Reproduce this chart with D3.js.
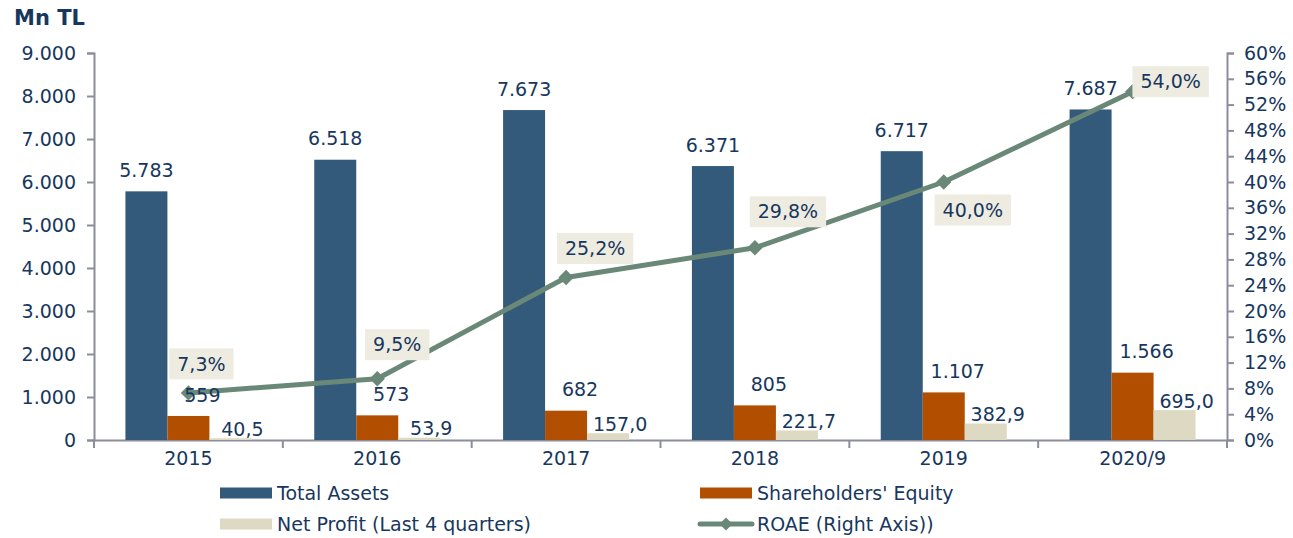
<!DOCTYPE html>
<html>
<head>
<meta charset="utf-8">
<script src="https://cdn.jsdelivr.net/npm/d3@7/dist/d3.min.js"></script>
<style>
  body { margin: 0; background: #fff; }
  svg text { font-family: "DejaVu Sans", Verdana, sans-serif; fill: #17375E; }
</style>
</head>
<body>
<svg id="chart" width="1293" height="538"></svg>
<script>

// data
var years = ["2015", "2016", "2017", "2018", "2019", "2020/9"];
var totalAssets = [5783, 6518, 7673, 6371, 6717, 7687];
var equity = [559, 573, 682, 805, 1107, 1566];
var netProfit = [40.5, 53.9, 157.0, 221.7, 382.9, 695.0];
var roae = [7.3, 9.5, 25.2, 29.8, 40.0, 54.0];

var leftTicks = [0, 1000, 2000, 3000, 4000, 5000, 6000, 7000, 8000, 9000];
var rightTicks = d3.range(0, 61, 4);

// where each ROAE label box sits relative to its point (layout only)
var roaeLabelShift = [[13, -29], [20, -34], [29, -29], [33, -36], [29, 28], [38, -10]];

var colours = {
  assets: "#345A7B",
  equity: "#B24E00",
  profit: "#DDD9C3",
  line: "#6A8878",
  axis: "#8C8D9B",
  box: "#EEECE1"
};

var FONT = 19;

var svg = d3.select("#chart");
var margin = { left: 94, right: 1227, top: 53, bottom: 440 };

var x0 = d3.scaleBand().domain(years).range([margin.left, margin.right]);
var x1 = d3.scaleBand().domain(["a", "e", "p"]).range([0, 126]);
var yL = d3.scaleLinear().domain([0, 9000]).range([margin.bottom, margin.top]);
var yR = d3.scaleLinear().domain([0, 60]).range([margin.bottom, margin.top]);

var fmtInt = function(v) { return d3.format(",")(v).replace(/,/g, "."); };
var fmtDec = function(v) { return v.toFixed(1).replace(".", ","); };

// title
svg.append("text")
  .attr("x", 14).attr("y", 25)
  .attr("font-size", 21).attr("font-weight", "bold")
  .text("Mn TL");

// axes
var axisG = svg.append("g");

axisG.append("g")
  .attr("transform", "translate(" + margin.left + ",0)")
  .call(d3.axisLeft(yL).tickValues(leftTicks).tickSize(7).tickPadding(11).tickFormat(fmtInt));

axisG.append("g")
  .attr("transform", "translate(" + margin.right + ",0)")
  .call(d3.axisRight(yR).tickValues(rightTicks).tickSize(7).tickPadding(10).tickFormat(function(d){ return d + "%"; }));

var bottomAxis = axisG.append("g")
  .attr("transform", "translate(0," + margin.bottom + ")")
  .call(d3.axisBottom(x0).tickSize(0).tickPadding(18));

bottomAxis.selectAll(".tick text").attr("dy", "0.35em");

// category boundary ticks
bottomAxis.selectAll("line.sep")
  .data(years.concat(["end"]))
  .enter().append("line")
  .attr("class", "sep")
  .attr("x1", function(d, i){ return margin.left + i * x0.step(); })
  .attr("x2", function(d, i){ return margin.left + i * x0.step(); })
  .attr("y1", 0).attr("y2", 8)
  .attr("stroke", colours.axis).attr("stroke-width", 2);

axisG.selectAll(".domain").attr("stroke", colours.axis).attr("stroke-width", 2);
axisG.selectAll(".tick line").attr("stroke", colours.axis).attr("stroke-width", 2);
axisG.selectAll(".tick text").attr("font-size", FONT).style("fill", "#17375E");

// bars
var series = [
  { key: "a", values: totalAssets, colour: colours.assets, fmt: fmtInt, dx: 0, dy: -21 },
  { key: "e", values: equity, colour: colours.equity, fmt: fmtInt, dx: 14, dy: -21 },
  { key: "p", values: netProfit, colour: colours.profit, fmt: fmtDec, dx: 12, dy: -9 }
];

var barsG = svg.append("g");
var groupPad = (x0.bandwidth() - x1.range()[1]) / 2;

series.forEach(function(s) {

  barsG.append("g").selectAll("rect").data(s.values).enter().append("rect")
    .attr("x", function(d, i){ return x0(years[i]) + groupPad + x1(s.key); })
    .attr("y", function(d){ return yL(d); })
    .attr("width", x1.bandwidth())
    .attr("height", function(d){ return yL(0) - yL(d); })
    .attr("fill", s.colour);

});

// ROAE line
var lineX = function(d, i){ return x0(years[i]) + x0.bandwidth() / 2; };

svg.append("path")
  .datum(roae)
  .attr("fill", "none")
  .attr("stroke", colours.line)
  .attr("stroke-width", 5)
  .attr("stroke-linejoin", "round")
  .attr("d", d3.line().x(lineX).y(function(d){ return yR(d); }));

svg.append("g").selectAll("path").data(roae).enter().append("path")
  .attr("d", d3.symbol().type(d3.symbolDiamond2).size(150))
  .attr("transform", function(d, i){ return "translate(" + lineX(d, i) + "," + yR(d) + ")"; })
  .attr("fill", colours.line);

// bar value labels (drawn over the line, like the original)
series.forEach(function(s) {

  svg.append("g").selectAll("text").data(s.values).enter().append("text")
    .attr("x", function(d, i){ return x0(years[i]) + groupPad + x1(s.key) + x1.bandwidth() / 2 + s.dx; })
    .attr("y", function(d){ return yL(d) + s.dy; })
    .attr("dy", "0.35em")
    .attr("text-anchor", "middle")
    .attr("font-size", FONT)
    .text(function(d){ return s.fmt(d); });

});

// ROAE labels with boxes
var roaeLabels = svg.append("g").selectAll("g").data(roae).enter().append("g")
  .attr("transform", function(d, i){
    return "translate(" + (lineX(d, i) + roaeLabelShift[i][0]) + "," + (yR(d) + roaeLabelShift[i][1]) + ")";
  });

roaeLabels.append("text")
  .attr("text-anchor", "middle")
  .attr("dy", "0.35em")
  .attr("font-size", FONT)
  .text(function(d){ return fmtDec(d) + "%"; });

roaeLabels.each(function() {
  var g = d3.select(this);
  var w = g.select("text").node().getComputedTextLength() + 16;
  g.insert("rect", "text")
    .attr("x", -w / 2).attr("y", -15.5)
    .attr("width", w).attr("height", 31)
    .attr("fill", colours.box);
});

// legend
var legendItems = [
  { label: "Total Assets", colour: colours.assets, x: 220, y: 493, type: "bar" },
  { label: "Shareholders' Equity", colour: colours.equity, x: 700, y: 493, type: "bar" },
  { label: "Net Profit (Last 4 quarters)", colour: colours.profit, x: 220, y: 524, type: "bar" },
  { label: "ROAE (Right Axis))", colour: colours.line, x: 700, y: 524, type: "line" }
];

var legend = svg.append("g").selectAll("g").data(legendItems).enter().append("g")
  .attr("transform", function(d){ return "translate(" + d.x + "," + d.y + ")"; });

legend.each(function(d) {
  var g = d3.select(this);
  if (d.type === "bar") {
    g.append("rect").attr("x", 0).attr("y", -5.5).attr("width", 52).attr("height", 11).attr("fill", d.colour);
  } else {
    g.append("line").attr("x1", 0).attr("x2", 52).attr("y1", 0).attr("y2", 0)
      .attr("stroke", d.colour).attr("stroke-width", 5).attr("stroke-linecap", "round");
    g.append("path").attr("d", d3.symbol().type(d3.symbolDiamond2).size(110))
      .attr("transform", "translate(26,0)").attr("fill", d.colour);
  }
  g.append("text").attr("x", 57).attr("dy", "0.35em").attr("font-size", FONT).text(d.label);
});

</script>
</body>
</html>
